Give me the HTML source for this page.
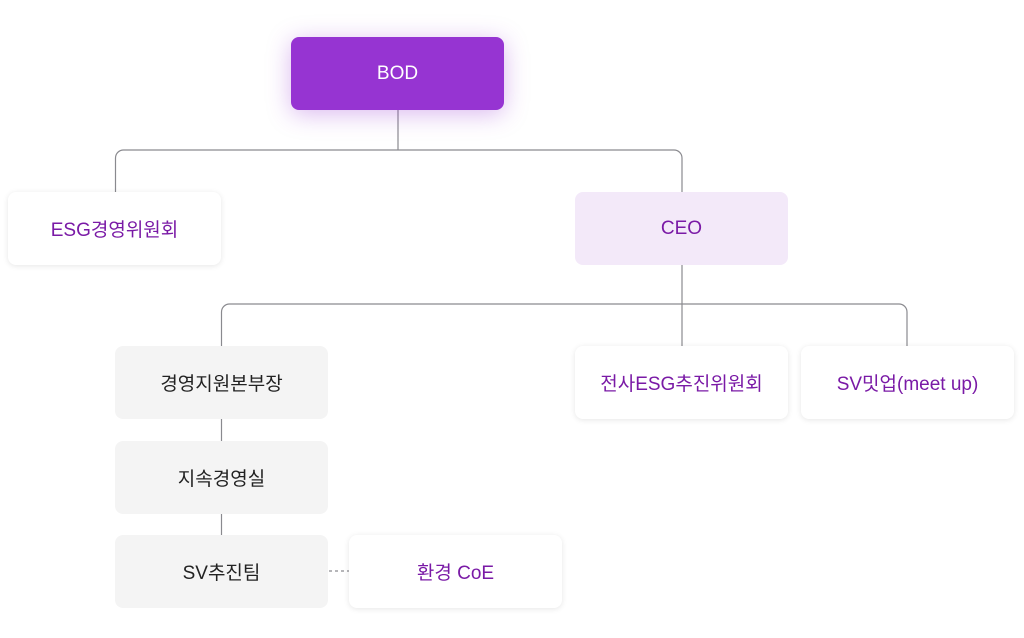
<!DOCTYPE html>
<html><head><meta charset="utf-8"><style>
body{margin:0;width:1024px;height:638px;background:#fff;position:relative;overflow:hidden;font-family:"Liberation Sans","Noto Sans CJK KR",sans-serif}
.b{position:absolute;width:213px;height:73px;border-radius:8px;display:flex;align-items:center;justify-content:center;font-size:19px;box-sizing:border-box}
.w{background:#fff;box-shadow:0 1px 6px rgba(0,0,0,.1);color:#7a1aa6}
.g{background:#f4f4f4;color:#222}
</style></head><body>
<svg width="1024" height="638" style="position:absolute;left:0;top:0" fill="none" stroke="#8a8a8f" stroke-width="1.2">
<path d="M398 110V150"/>
<path d="M115.5 192V158a8 8 0 0 1 8-8H674a8 8 0 0 1 8 8V192"/>
<path d="M682 265V304"/>
<path d="M221.5 346V312a8 8 0 0 1 8-8H899a8 8 0 0 1 8 8V346"/>
<path d="M682 304V346"/>
<path d="M221.5 419V441M221.5 514V535"/>
<path d="M329 571H349" stroke-dasharray="3 3"/>
</svg>
<div class="b" style="left:291px;top:37px;background:#9634d2;color:#fff;box-shadow:0 4px 24px rgba(150,52,210,.35)">BOD</div>
<div class="b w" style="left:8px;top:192px">ESG경영위원회</div>
<div class="b" style="left:575px;top:192px;background:#f3e9f9;color:#7a1aa6">CEO</div>
<div class="b g" style="left:115px;top:346px">경영지원본부장</div>
<div class="b w" style="left:575px;top:346px">전사ESG추진위원회</div>
<div class="b w" style="left:801px;top:346px">SV밋업(meet up)</div>
<div class="b g" style="left:115px;top:441px">지속경영실</div>
<div class="b g" style="left:115px;top:535px">SV추진팀</div>
<div class="b w" style="left:349px;top:535px">환경 CoE</div>
</body></html>
